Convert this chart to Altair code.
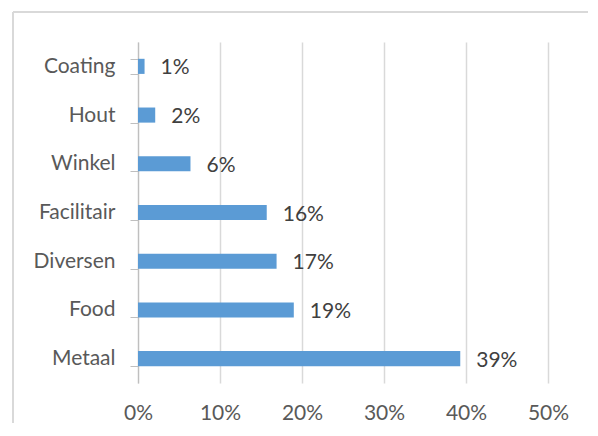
import altair as alt
import pandas as pd

categories = ["Coating", "Hout", "Winkel", "Facilitair", "Diversen", "Food", "Metaal"]
values = [0.008, 0.021, 0.064, 0.157, 0.169, 0.190, 0.393]

df = pd.DataFrame({"cat": categories, "val": values})

FONT = "Lato"
FS = 21
W, H = 410, 341

y_enc = alt.Y(
    "cat:N",
    sort=categories,
    scale=alt.Scale(paddingInner=0.69, paddingOuter=0.345),
    axis=alt.Axis(
        title=None,
        tickBand="extent",
        tickSize=8,
        tickColor="#BFBFBF",
        domainColor="#BFBFBF",
        domainWidth=1.2,
        labelPadding=15,
        labelFont=FONT,
        labelFontSize=FS,
        labelColor="#595959",
        grid=False,
    ),
)
x_enc = alt.X(
    "val:Q",
    scale=alt.Scale(domain=[0, 0.5]),
    axis=alt.Axis(
        title=None,
        format=".0%",
        values=[0, 0.1, 0.2, 0.3, 0.4, 0.5],
        grid=True,
        gridColor="#D9D9D9",
        gridWidth=1.5,
        domain=False,
        ticks=False,
        labelFlush=False,
        labelPadding=19,
        labelFont=FONT,
        labelFontSize=FS,
        labelColor="#595959",
    ),
)

base = alt.Chart(df)
bars = base.mark_bar(color="#5B9BD5").encode(x=x_enc, y=y_enc)
text = base.mark_text(
    align="left", baseline="middle", dx=16, dy=2, font=FONT, fontSize=FS, color="#404040"
).encode(x="val:Q", y=alt.Y("cat:N", sort=categories), text=alt.Text("val:Q", format=".0%"))

frame_left = alt.Chart(df).mark_rule(color="#D9D9D9", strokeWidth=1.5).encode(
    x=alt.value(-125), y=alt.value(-30), y2=alt.value(H + 40)
)
frame_top = alt.Chart(df).mark_rule(color="#D9D9D9", strokeWidth=1.5).encode(
    x=alt.value(-125), x2=alt.value(W + 40), y=alt.value(-30)
)

chart = (
    alt.layer(frame_left, frame_top, bars, text)
    .properties(
        width=W,
        height=H,
        autosize=alt.AutoSizeParams(type="none"),
        padding={"left": 130, "top": 34, "right": 40, "bottom": 40},
        background="white",
    )
    .configure_view(stroke=None)
)

chart.save("out.html", embed_options={"renderer": "svg", "actions": False})
